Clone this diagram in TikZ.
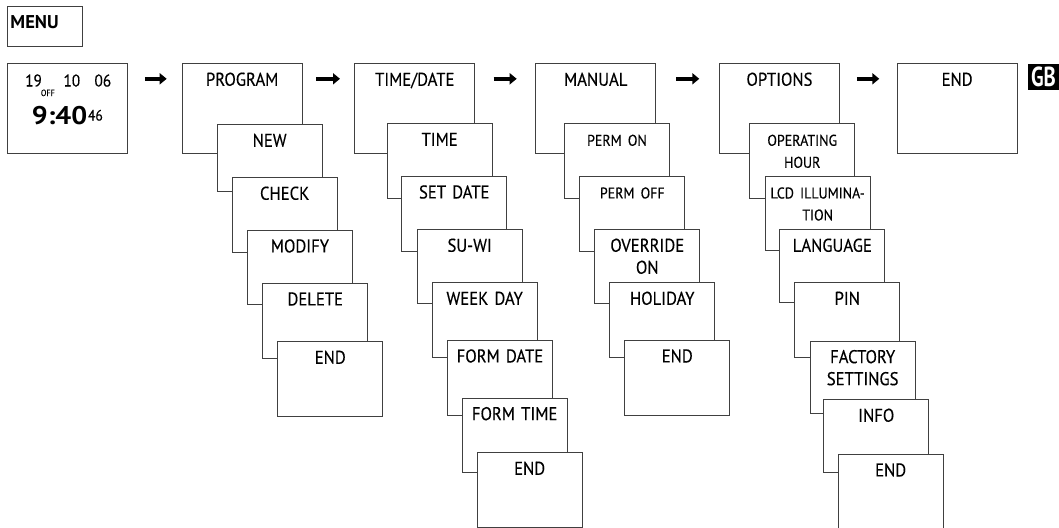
\documentclass[tikz,border=0pt]{standalone}
\usepackage{fontspec}
\setmainfont{PT Sans}[FakeStretch=0.9, FakeBold=0.3]
\newfontfamily\gbfamily{PT Sans}[FakeStretch=0.75]
\newfontfamily\plainfamily{PT Sans}
\newfontfamily\widefamily{PT Sans}[FakeStretch=1.1]
\usetikzlibrary{arrows.meta}
\newcommand\bigfont{\fontsize{18.5}{22}\selectfont}
\newcommand\smfont{\fontsize{15.5}{17.5}\selectfont}
\tikzset{menubox/.style={draw=black!75, line width=0.9pt, fill=white, inner sep=0pt, anchor=north west},
         topbox/.style={menubox, text width=120pt, align=center, text height=22pt, text depth=68pt, font=\bigfont},
         subbox/.style={menubox, text width=105pt, align=center, text height=22pt, font=\bigfont},
         clocktxt/.style={inner sep=0pt, anchor=base west},
         arr/.style={line width=4.5pt, -{Triangle[length=7pt,width=11pt]}},
         }

\begin{document}
\begin{tikzpicture}[x=1pt, y=-1pt]
\useasboundingbox (0,0) rectangle (1059,527);
% menu title
\node[menubox, text width=69pt, inner xsep=3.3pt, align=left, text height=22.3pt, text depth=17.4pt,
      font=\plainfamily\fontsize{18.5}{20}\selectfont\bfseries] (menu) at (6.7,6) {MENU};
% display
\node[topbox] (clock) at (6.7,63.3) {};
\node[clocktxt, font=\fontsize{17}{20}\selectfont] (day) at (25,86.5) {19};
\node[clocktxt, font=\fontsize{17}{20}\selectfont] (month) at (63.3,86.5) {10};
\node[clocktxt, font=\fontsize{17}{20}\selectfont] (year) at (94.3,86.5) {06};
\node[clocktxt, font=\fontsize{9}{10}\selectfont] (off) at (40.7,96) {OFF};
\node[clocktxt, font=\widefamily\fontsize{25.5}{28}\selectfont\bfseries] (hm) at (31.7,124) {9:40};
\node[clocktxt, font=\fontsize{15}{17}\selectfont, xshift=0.5pt, yshift=3.5pt] (sec) at (hm.base east) {46};
% main menu
\foreach \lbl/\lx/\nm in {PROGRAM/181.7/prog, {TIME/DATE}/354.3/tdate, MANUAL/535.3/man,
                           OPTIONS/719/opt, END/896.7/fin}
  \node[topbox] (\nm) at (\lx,63.3) {\lbl};
% sub menus
\foreach \lbl/\lx/\ly/\lb [count=\i, evaluate=\lb as \dep using \lb-\ly-22] in {
    {NEW\hspace*{43pt}}/216.7/124.3/191, CHECK/231.7/177.3/251.7, MODIFY/247/230/304.3,
    DELETE/262.3/283/357.7, END/277.3/341.3/416}
  \node[subbox, text depth=\dep pt] (prog\i) at (\lx,\ly) {\lbl};
\foreach \lbl/\lx/\ly/\lb [count=\i, evaluate=\lb as \dep using \lb-\ly-22] in {
    TIME/386.7/123.3/197.7, SET DATE/401.3/176/250.7, SU-WI/416.7/229.3/303.3,
    WEEK DAY/431.7/282.3/356.7, FORM DATE/447/340/415, FORM TIME/461.7/397.7/472.3,
    END/476.7/452.3/526.7}
  \node[subbox, text depth=\dep pt] (tdate\i) at (\lx,\ly) {\lbl};
\foreach \lbl/\lx/\ly/\lb [count=\i, evaluate=\lb as \dep using \lb-\ly-22] in {
    {\smfont PERM ON}/564/123.3/197.7, {\smfont PERM OFF}/579.3/176/250.7,
    {OVERRIDE\\ON}/594.3/229.3/303.3, HOLIDAY/609.3/282.3/356.7, END/624.3/340/415}
  \node[subbox, text depth=\dep pt] (man\i) at (\lx,\ly) {\lbl};
\foreach \lbl/\lx/\ly/\lb [count=\i, evaluate=\lb as \dep using \lb-\ly-22] in {
    {\smfont OPERATING\\HOUR}/749.3/123.3/198.3, {\smfont LCD ILLUMINA-\\TION}/764.7/176/250,
    LANGUAGE/779.3/229.3/302.3, PIN/794.3/282.3/356.7, {FACTORY\\SETTINGS}/809.7/340.7/413.3,
    INFO/823.3/399.3/472.3, END/837.7/454/535}
  \node[subbox, text depth=\dep pt] (opt\i) at (\lx,\ly) {\lbl};
% arrows
\foreach \a/\b/\s/\e in {clock/prog/17.3/15, prog/tdate/13.7/14.3, tdate/man/18.3/18.6,
                         man/opt/20/19.7, opt/fin/17/17.4}
  \draw[arr, shorten <=\s pt, shorten >=\e pt] ([yshift=-15.5pt]\a.north east) -- ([yshift=-15.5pt]\b.north west);
% language tab
\node[fill=black, text=white, anchor=north west, minimum width=32pt, minimum height=25.3pt, inner sep=0pt,
      font=\gbfamily\fontsize{27.5}{30}\selectfont\bfseries] (gb) at (1027.3,64) {GB};
\end{tikzpicture}
\end{document}
